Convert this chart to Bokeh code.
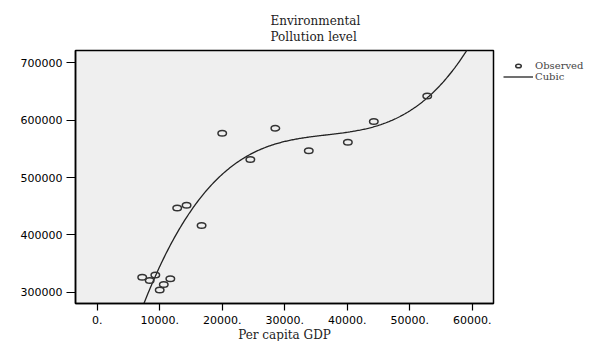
import numpy as np
from bokeh.plotting import figure
from bokeh.models import Range1d, FixedTicker, Legend, LegendItem
from bokeh.embed import file_html
from bokeh.resources import INLINE

# Observed data: per capita GDP vs environmental pollution level
gdp = [7200, 8400, 9300, 11700, 10650, 10000, 12800, 14300, 16700,
       20000, 28500, 24500, 33850, 40100, 44250, 52800]
pollution = [326000, 320500, 330000, 323500, 313500, 304000, 447000, 451500, 416500,
             577000, 586000, 531500, 546500, 561500, 597500, 642000]

x_ticks = [0, 10000, 20000, 30000, 40000, 50000, 60000]
x_tick_labels = ["0.", "10000.", "20000.", "30000.", "40000.", "50000.", "60000."]
y_ticks = [300000, 400000, 500000, 600000, 700000]

# cubic curve estimation (least squares) from the observed data
coef = np.polyfit(np.array(gdp, float), np.array(pollution, float), 3)
fit_x = np.linspace(0, 64000, 400)
fit_y = np.polyval(coef, fit_x)

TICK_FONT = "DejaVu Sans"
SERIF = "DejaVu Serif"

p = figure(frame_width=418, frame_height=253, output_backend="svg", toolbar_location=None,
           x_range=Range1d(-3470, 63400), y_range=Range1d(280300, 721500),
           min_border_left=75, min_border_right=0, min_border_top=50, min_border_bottom=38,
           background_fill_color="#efefef", border_fill_color="white",
           title="Environmental\nPollution level")
p.title.align = "left"
p.title.offset = 195
p.title.text_font = SERIF
p.title.text_font_size = "12px"
p.title.text_font_style = "normal"
p.title.text_color = "#222222"
p.title.text_line_height = 1.15
p.title.standoff = 12

p.outline_line_color = "black"
p.outline_line_width = 1.5
p.outline_line_alpha = 1
p.grid.visible = False

p.xaxis.ticker = FixedTicker(ticks=x_ticks)
p.xaxis.major_label_overrides = {t: l for t, l in zip(x_ticks, x_tick_labels)}
p.yaxis.ticker = FixedTicker(ticks=y_ticks)
for ax in (p.xaxis[0], p.yaxis[0]):
    ax.axis_line_color = "black"
    ax.axis_line_width = 1.5
    ax.major_tick_line_color = "black"
    ax.major_tick_line_width = 1.2
    ax.major_tick_in = 0
    ax.minor_tick_line_color = None
    ax.major_label_text_font = TICK_FONT
    ax.major_label_text_font_size = "11px"
    ax.major_label_text_color = "black"
p.xaxis.major_tick_out = 7
p.yaxis.major_tick_out = 9
p.xaxis.major_label_standoff = 5
p.yaxis.major_label_standoff = 4
p.yaxis.formatter.use_scientific = False
p.xaxis.axis_label = "Per capita GDP"
p.xaxis.axis_label_text_font = SERIF
p.xaxis.axis_label_text_font_size = "12px"
p.xaxis.axis_label_text_font_style = "normal"
p.xaxis.axis_label_text_color = "#222222"
p.xaxis.axis_label_standoff = 1

line_r = p.line(fit_x, fit_y, line_color="#222222", line_width=1.3)
obs_r = p.ellipse(gdp, pollution, width=8.5, height=5.5, width_units="screen", height_units="screen",
                  fill_color=None, line_color="#333333", line_width=1.5)

legend = Legend(items=[LegendItem(label="Observed", renderers=[obs_r]),
                       LegendItem(label="Cubic", renderers=[line_r])],
                location="top_left", orientation="vertical",
                border_line_color=None, background_fill_alpha=0,
                glyph_width=30, glyph_height=7, label_height=7, spacing=0, padding=0,
                margin=10, label_standoff=2,
                label_text_font=SERIF, label_text_font_size="10px")
p.add_layout(legend, "right")

open("out.html", "w").write(file_html(p, INLINE))
